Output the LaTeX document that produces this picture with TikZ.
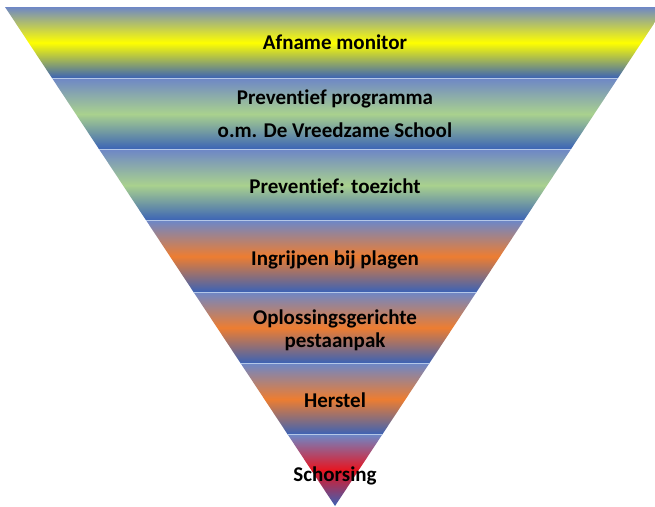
\documentclass[tikz,border=0pt]{standalone}
\usepackage{fontspec}
\setmainfont{Carlito}[Ligatures=NoCommon]
\usetikzlibrary{calc}
\definecolor{bandtop}{HTML}{6E87C6}
\definecolor{bandbot}{HTML}{3A62B6}
\definecolor{cyellow}{HTML}{FFFF00}
\definecolor{cgreen}{HTML}{A9D18E}
\definecolor{corange}{HTML}{ED7D31}
\definecolor{cred}{HTML}{E8141F}
\definecolor{sepline}{HTML}{B4C7E7}
\begin{document}
\begin{tikzpicture}[x=1pt,y=-1pt,
  lbl/.style={font=\fontsize{21}{23}\selectfont\bfseries, text=black, inner sep=0pt, anchor=base},
  sepstyle/.style={draw=sepline, line width=1pt}]
\useasboundingbox (0,0) rectangle (655,506);
\begin{scope}
\clip (0,0) rectangle (655,506);
\coordinate (TL) at (5,7);
\coordinate (TR) at (665,7);
\coordinate (A) at (335,506);
\foreach \i/\c in {0/cyellow,1/cgreen,2/cgreen,3/corange,4/corange,5/corange,6/cred} {
  \pgfmathsetmacro\a{\i/7}
  \pgfmathsetmacro\b{(\i+1)/7}
  \shade[top color=bandtop, bottom color=bandbot, middle color=\c]
    ($(TL)!\a!(A)$) -- ($(TR)!\a!(A)$) -- ($(TR)!\b!(A)$) -- ($(TL)!\b!(A)$) -- cycle;
}
\foreach \i in {1,...,6} {
  \pgfmathsetmacro\a{\i/7}
  \draw[sepstyle] ($(TL)!\a!(A)$) -- ($(TR)!\a!(A)$);
}
\end{scope}
\node[lbl] (t1) at (335,49) {Afname monitor};
\node[lbl] (t2a) at (335,104) {Preventief programma};
\node[lbl] (t2b) at (335,137) {o.m. De Vreedzame School};
\node[lbl] (t3) at (335,193) {Preventief: toezicht};
\node[lbl] (t4) at (335,265) {Ingrijpen bij plagen};
\node[lbl] (t5a) at (335,324) {Oplossingsgerichte};
\node[lbl] (t5b) at (335,347) {pestaanpak};
\node[lbl] (t6) at (335,407) {Herstel};
\node[lbl] (t7) at (335,481) {Schorsing};
\end{tikzpicture}
\end{document}
